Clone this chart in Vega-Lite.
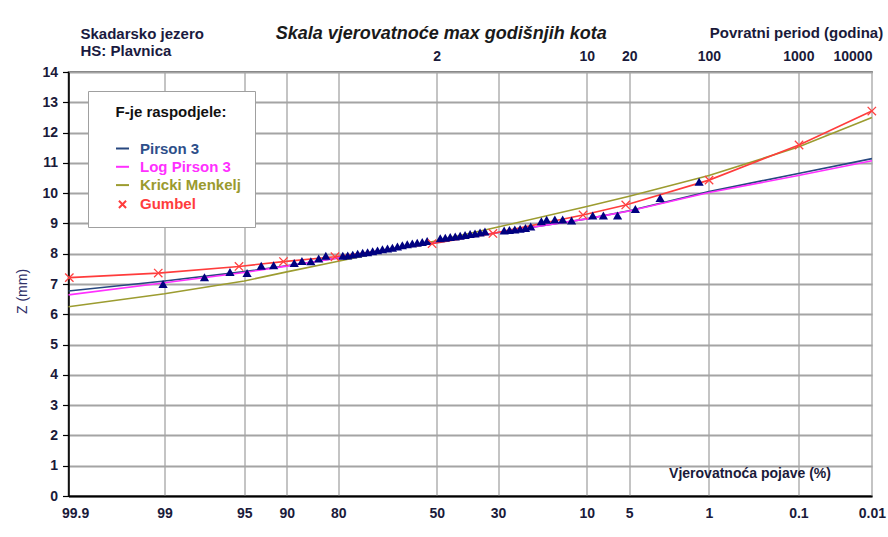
{
  "$schema": "https://vega.github.io/schema/vega-lite/v6.json",
  "width": 803.5,
  "height": 424,
  "autosize": {"type": "none"},
  "padding": {"left": 68.5, "top": 72, "right": 16, "bottom": 41},
  "background": "white",
  "config": {
    "font": "Liberation Sans",
    "view": {"stroke": "#404040", "strokeWidth": 1.5},
    "axis": {"labelFont": "Liberation Sans", "titleFont": "Liberation Sans"},
    "legend": {"labelFont": "Liberation Sans", "titleFont": "Liberation Sans"}
  },
  "title": {
    "text": "Skala vjerovatnoće max godišnjih kota",
    "font": "Liberation Sans",
    "fontSize": 18,
    "fontWeight": "bold",
    "fontStyle": "italic",
    "color": "#1a1a1a",
    "anchor": "middle",
    "frame": "group",
    "dx": -29,
    "offset": -18
  },
  "datasets": {
    "krive": [
      {"serija": "Pirson 3", "u": -3.147, "Z": 6.77},
      {"serija": "Pirson 3", "u": -2.326, "Z": 7.10},
      {"serija": "Pirson 3", "u": -1.645, "Z": 7.41},
      {"serija": "Pirson 3", "u": -1.282, "Z": 7.60},
      {"serija": "Pirson 3", "u": -0.842, "Z": 7.86},
      {"serija": "Pirson 3", "u": 0, "Z": 8.40},
      {"serija": "Pirson 3", "u": 0.524, "Z": 8.70},
      {"serija": "Pirson 3", "u": 1.282, "Z": 9.15},
      {"serija": "Pirson 3", "u": 1.645, "Z": 9.42},
      {"serija": "Pirson 3", "u": 2.326, "Z": 10.05},
      {"serija": "Pirson 3", "u": 3.09, "Z": 10.65},
      {"serija": "Pirson 3", "u": 3.719, "Z": 11.14},
      {"serija": "Log Pirson 3", "u": -3.147, "Z": 6.64},
      {"serija": "Log Pirson 3", "u": -2.326, "Z": 7.04},
      {"serija": "Log Pirson 3", "u": -1.645, "Z": 7.38},
      {"serija": "Log Pirson 3", "u": -1.282, "Z": 7.59},
      {"serija": "Log Pirson 3", "u": -0.842, "Z": 7.86},
      {"serija": "Log Pirson 3", "u": 0, "Z": 8.40},
      {"serija": "Log Pirson 3", "u": 0.524, "Z": 8.70},
      {"serija": "Log Pirson 3", "u": 1.282, "Z": 9.15},
      {"serija": "Log Pirson 3", "u": 1.645, "Z": 9.41},
      {"serija": "Log Pirson 3", "u": 2.326, "Z": 10.02},
      {"serija": "Log Pirson 3", "u": 3.09, "Z": 10.58},
      {"serija": "Log Pirson 3", "u": 3.719, "Z": 11.07},
      {"serija": "Kricki Menkelj", "u": -3.147, "Z": 6.25},
      {"serija": "Kricki Menkelj", "u": -2.326, "Z": 6.68},
      {"serija": "Kricki Menkelj", "u": -1.645, "Z": 7.10},
      {"serija": "Kricki Menkelj", "u": -1.282, "Z": 7.40},
      {"serija": "Kricki Menkelj", "u": -0.842, "Z": 7.75},
      {"serija": "Kricki Menkelj", "u": 0, "Z": 8.43},
      {"serija": "Kricki Menkelj", "u": 0.524, "Z": 8.88},
      {"serija": "Kricki Menkelj", "u": 1.282, "Z": 9.56},
      {"serija": "Kricki Menkelj", "u": 1.645, "Z": 9.90},
      {"serija": "Kricki Menkelj", "u": 2.326, "Z": 10.58},
      {"serija": "Kricki Menkelj", "u": 3.09, "Z": 11.52},
      {"serija": "Kricki Menkelj", "u": 3.719, "Z": 12.50},
      {"serija": "Gumbel", "u": -3.14, "Z": 7.21},
      {"serija": "Gumbel", "u": -2.38, "Z": 7.36},
      {"serija": "Gumbel", "u": -1.69, "Z": 7.58},
      {"serija": "Gumbel", "u": -1.31, "Z": 7.74},
      {"serija": "Gumbel", "u": -0.87, "Z": 7.90},
      {"serija": "Gumbel", "u": -0.04, "Z": 8.33},
      {"serija": "Gumbel", "u": 0.48, "Z": 8.67},
      {"serija": "Gumbel", "u": 1.25, "Z": 9.28},
      {"serija": "Gumbel", "u": 1.615, "Z": 9.61},
      {"serija": "Gumbel", "u": 2.327, "Z": 10.43},
      {"serija": "Gumbel", "u": 3.096, "Z": 11.59},
      {"serija": "Gumbel", "u": 3.718, "Z": 12.71}
    ],
    "mjerenja": [
      {"u": -2.339, "Z": 7.00}, {"u": -1.985, "Z": 7.22}, {"u": -1.767, "Z": 7.40}, {"u": -1.621, "Z": 7.36},
      {"u": -1.500, "Z": 7.60}, {"u": -1.394, "Z": 7.62}, {"u": -1.218, "Z": 7.69}, {"u": -1.152, "Z": 7.76},
      {"u": -1.076, "Z": 7.75}, {"u": -1.009, "Z": 7.84}, {"u": -0.948, "Z": 7.93},
      {"u": -0.803, "Z": 7.93}, {"u": -0.761, "Z": 7.94}, {"u": -0.718, "Z": 7.97}, {"u": -0.676, "Z": 8.00},
      {"u": -0.633, "Z": 8.03}, {"u": -0.591, "Z": 8.05}, {"u": -0.548, "Z": 8.08}, {"u": -0.506, "Z": 8.11},
      {"u": -0.464, "Z": 8.15}, {"u": -0.421, "Z": 8.17}, {"u": -0.379, "Z": 8.20}, {"u": -0.336, "Z": 8.24},
      {"u": -0.294, "Z": 8.28}, {"u": -0.252, "Z": 8.31}, {"u": -0.209, "Z": 8.34}, {"u": -0.167, "Z": 8.36},
      {"u": -0.124, "Z": 8.39}, {"u": -0.082, "Z": 8.42},
      {"u": 0.030, "Z": 8.51}, {"u": 0.073, "Z": 8.53}, {"u": 0.115, "Z": 8.55}, {"u": 0.158, "Z": 8.57},
      {"u": 0.200, "Z": 8.59}, {"u": 0.242, "Z": 8.62}, {"u": 0.285, "Z": 8.65}, {"u": 0.327, "Z": 8.67},
      {"u": 0.370, "Z": 8.70}, {"u": 0.412, "Z": 8.73},
      {"u": 0.576, "Z": 8.77}, {"u": 0.621, "Z": 8.78}, {"u": 0.667, "Z": 8.80}, {"u": 0.712, "Z": 8.82},
      {"u": 0.758, "Z": 8.85}, {"u": 0.803, "Z": 8.90},
      {"u": 0.894, "Z": 9.07}, {"u": 0.939, "Z": 9.12}, {"u": 1.009, "Z": 9.13}, {"u": 1.076, "Z": 9.13},
      {"u": 1.152, "Z": 9.10},
      {"u": 1.333, "Z": 9.26}, {"u": 1.424, "Z": 9.26}, {"u": 1.545, "Z": 9.26}, {"u": 1.697, "Z": 9.48},
      {"u": 1.909, "Z": 9.84}, {"u": 2.242, "Z": 10.38}
    ]
  },
  "resolve": {
    "scale": {"x": "shared", "y": "shared"},
    "axis": {"x": "independent", "y": "independent"}
  },
  "layer": [
    {
      "data": {"name": "krive"},
      "mark": {"type": "line", "strokeWidth": 1.6},
      "encoding": {
        "x": {
          "field": "u",
          "type": "quantitative",
          "scale": {"domain": [-3.147, 3.7195], "nice": false, "zero": false},
          "axis": {
            "orient": "bottom",
            "values": [-3.0902, -2.3263, -1.6449, -1.2816, -0.8416, 0, 0.5244, 1.2816, 1.6449, 2.3263, 3.0902, 3.719],
            "labelExpr": "datum.value < -3 ? '99.9' : datum.value < -2 ? '99' : datum.value < -1.5 ? '95' : datum.value < -1 ? '90' : datum.value < -0.5 ? '80' : datum.value < 0.3 ? '50' : datum.value < 1 ? '30' : datum.value < 1.5 ? '10' : datum.value < 2 ? '5' : datum.value < 2.7 ? '1' : datum.value < 3.4 ? '0.1' : '0.01'",
            "ticks": false,
            "tickSize": 0,
            "labelPadding": 10,
            "labelFontSize": 14,
            "labelFontWeight": "bold",
            "labelColor": "#1a1a3a",
            "labelFlush": false,
            "labelOverlap": false,
            "labelBound": false,
            "domainColor": "#000000",
            "domainWidth": 2,
            "grid": false,
            "title": "Vjerovatnoća pojave (%)",
            "titleFontSize": 14,
            "titleFontWeight": "bold",
            "titleColor": "#1a1a3a",
            "titleX": 681,
            "titleY": -23,
            "titleAlign": "center",
            "titleBaseline": "middle"
          }
        },
        "y": {
          "field": "Z",
          "type": "quantitative",
          "scale": {"domain": [0, 14], "nice": false},
          "axis": {
            "orient": "left",
            "values": [0, 1, 2, 3, 4, 5, 6, 7, 8, 9, 10, 11, 12, 13, 14],
            "tickSize": 6,
            "tickColor": "#000000",
            "tickWidth": 1.2,
            "labelPadding": 5,
            "labelFontSize": 14,
            "labelFontWeight": "bold",
            "labelColor": "#1a1a3a",
            "labelFlush": false,
            "labelOverlap": false,
            "domainColor": "#000000",
            "domainWidth": 1.5,
            "grid": true,
            "gridColor": "#a4a4a4",
            "gridWidth": 2,
            "zindex": 0,
            "title": "Z (mm)",
            "titleFontSize": 14,
            "titleFontWeight": "normal",
            "titleColor": "#303068",
            "titleX": -46.5,
            "titleY": 219,
            "titleAngle": 270,
            "titleAlign": "center",
            "titleBaseline": "middle"
          }
        },
        "color": {
          "field": "serija",
          "type": "nominal",
          "scale": {
            "domain": ["Pirson 3", "Log Pirson 3", "Kricki Menkelj", "Gumbel"],
            "range": ["#27477f", "#ff30ff", "#9c9c30", "#ff3c3c"]
          },
          "legend": {
            "orient": "none",
            "legendX": 19.5,
            "legendY": 19,
            "title": "F-je raspodjele:",
            "titleFontSize": 15,
            "titleFontWeight": "bold",
            "titleColor": "#111111",
            "titleAnchor": "middle",
            "titlePadding": 21,
            "labelFontSize": 15,
            "labelFontWeight": "bold",
            "labelOffset": 10,
            "labelColor": {"expr": "datum.value === 'Pirson 3' ? '#2e4f8a' : datum.value === 'Log Pirson 3' ? '#ff30ff' : datum.value === 'Kricki Menkelj' ? '#9a9a2e' : '#ff3c3c'"},
            "rowPadding": 2.3,
            "padding": 14,
            "symbolOffset": 13,
            "fillColor": "white",
            "strokeColor": "#a0a0a0",
            "symbolType": {"expr": "datum.value === 'Gumbel' ? 'M-0.55,-0.55L0.55,0.55M-0.55,0.55L0.55,-0.55' : 'stroke'"},
            "symbolSize": 169,
            "symbolStrokeWidth": 2
          }
        }
      }
    },
    {
      "data": {"name": "mjerenja"},
      "mark": {"type": "point", "shape": "triangle-up", "filled": true, "color": "#000080", "size": 85, "opacity": 1},
      "encoding": {
        "x": {
          "field": "u",
          "type": "quantitative",
          "axis": {
            "orient": "top",
            "values": [-2.3263, -1.6449, -1.2816, -0.8416, 0, 0.5244, 1.2816, 1.6449, 2.3263, 3.0902, 3.719],
            "labelExpr": "datum.value < -0.5 ? '' : datum.value < 0.3 ? '2' : datum.value < 1 ? '' : datum.value < 1.5 ? '10' : datum.value < 2 ? '20' : datum.value < 2.7 ? '100' : datum.value < 3.4 ? '1000' : '10000'",
            "ticks": false,
            "tickSize": 0,
            "domain": false,
            "grid": true,
            "gridColor": "#c4c4c4",
            "gridWidth": 2,
            "zindex": 0,
            "labelPadding": 9,
            "labelFontSize": 14,
            "labelFontWeight": "bold",
            "labelColor": "#1a1a3a",
            "labelFlush": true,
            "labelOverlap": false,
            "title": "Povratni period (godina)",
            "titleFontSize": 15,
            "titleFontWeight": "bold",
            "titleColor": "#1a1a3a",
            "titleX": 727.5,
            "titleY": -40,
            "titleAlign": "center",
            "titleBaseline": "middle"
          }
        },
        "y": {
          "field": "Z",
          "type": "quantitative",
          "axis": {
            "orient": "right",
            "labels": false,
            "ticks": false,
            "domain": false,
            "grid": false,
            "title": ["Skadarsko jezero", "HS: Plavnica"],
            "titleAngle": 0,
            "titleAlign": "left",
            "titleBaseline": "alphabetic",
            "titleX": -792,
            "titleY": -34,
            "titleLineHeight": 17,
            "titleFontSize": 15,
            "titleFontWeight": "bold",
            "titleColor": "#1a1a40"
          }
        }
      }
    },
    {
      "data": {"name": "krive"},
      "transform": [{"filter": "datum.serija === 'Gumbel'"}],
      "mark": {"type": "point", "shape": "M-1,-1L1,1M-1,1L1,-1", "filled": false, "color": "#ff4040", "strokeWidth": 1.3, "size": 70, "opacity": 1},
      "encoding": {
        "x": {"field": "u", "type": "quantitative", "axis": null},
        "y": {"field": "Z", "type": "quantitative", "axis": null}
      }
    }
  ]
}
